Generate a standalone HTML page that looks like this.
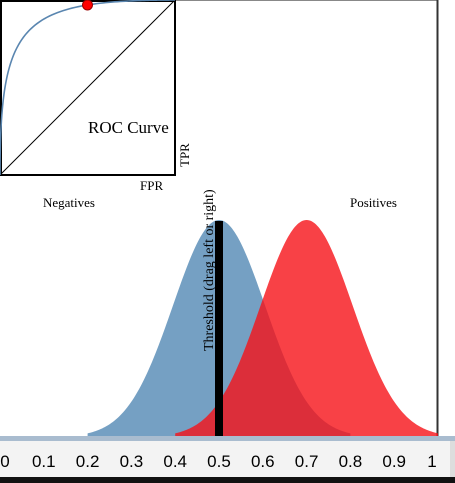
<!DOCTYPE html>
<html><head><meta charset="utf-8"><style>
html,body{margin:0;padding:0;width:455px;height:483px;overflow:hidden;background:#fff}
svg{display:block}
text{font-family:"Liberation Serif",serif}
</style></head><body>
<svg id="chart" width="455" height="483">
<rect x="0" y="0" width="455" height="483" fill="#fff"/>
<line x1="0" y1="0.5" x2="438" y2="0.5" stroke="#888"/>
<line x1="437.5" y1="0" x2="437.5" y2="437" stroke="#333" stroke-width="2"/>
<g id="dist"></g>
<g id="roc"></g>
<rect x="0" y="436" width="455" height="5" fill="#a9bccf"/>
<rect x="0" y="441" width="455" height="36" fill="#f3f3f3"/>
<rect x="450" y="441" width="5" height="36" fill="#ddd"/>
<rect x="0" y="477" width="455" height="6" fill="#111"/>
<g id="ticks"></g>
</svg>
<script>
const ticks=[0,0.1,0.2,0.3,0.4,0.5,0.6,0.7,0.8,0.9,1];
const tickLabels=["0","0.1","0.2","0.3","0.4","0.5","0.6","0.7","0.8","0.9","1"];
const negMean=0.5, posMean=0.7, sigma=0.105;
const negRange=[0.2,0.8], posRange=[0.4,1.0];
const threshold=0.5;
const NS="http://www.w3.org/2000/svg";
const X=v=>v*438, base=437, peakH=217;
const Y=d=>base-d*peakH;
function mk(t,a,p){const e=document.createElementNS(NS,t);for(const k in a)e.setAttribute(k,a[k]);p.appendChild(e);return e;}
function g(x,m){return Math.exp(-((x-m)**2)/(2*sigma*sigma));}
function erf(x){const s=Math.sign(x);x=Math.abs(x);const t=1/(1+0.3275911*x);const y=1-(((((1.061405429*t-1.453152027)*t)+1.421413741)*t-0.284496736)*t+0.254829592)*t*Math.exp(-x*x);return s*y;}
function surv(t,m){return 0.5*(1-erf((t-m)/(sigma*Math.SQRT2)));}
const dist=document.getElementById('dist');
function bell(m,r,fill,op,name){let d=`M${X(r[0])},${base}`;for(let i=0;i<=200;i++){const v=r[0]+(r[1]-r[0])*i/200;d+=` L${X(v).toFixed(2)},${Y(g(v,m)).toFixed(2)}`;}d+=` L${X(r[1])},${base} Z`;
const p=mk('path',{d:d,fill:fill,'fill-opacity':op},dist);

}
bell(negMean,negRange,'#75a0c3',1,'negatives-distribution');
bell(posMean,posRange,'#f61218',0.8,'positives-distribution');
const th=mk('rect',{x:X(threshold)-4,y:Y(1)+1,width:8,height:base-Y(1)-1,fill:'#000'},dist);


const tl=mk('text',{x:0,y:0,'font-size':'14',transform:`translate(${X(threshold)-6},351) rotate(-90)`},dist);
tl.textContent='Threshold (drag left or right)';


const nl=mk('text',{x:43,y:207,'font-size':'13'},dist);nl.textContent='Negatives';


const pl=mk('text',{x:350,y:207,'font-size':'13'},dist);pl.textContent='Positives';


// ROC
const roc=document.getElementById('roc');const S=175;
const RX=f=>f*S, RY=t=>S-t*S;
const box=mk('rect',{x:1,y:1,width:S-1,height:S-1,fill:'none',stroke:'#000','stroke-width':2},roc);


const dg=mk('line',{x1:0,y1:S,x2:S,y2:0,stroke:'#000','stroke-width':1},roc);


let d='';for(let i=0;i<=300;i++){const t=-0.2+1.4*i/300;const f=surv(t,negMean),tp=surv(t,posMean);d+=(i?' L':'M')+RX(f).toFixed(2)+','+RY(tp).toFixed(2);}
const rc=mk('path',{d:d,fill:'none',stroke:'#5a86b0','stroke-width':1.6},roc);


const dot=mk('circle',{cx:RX(surv(threshold,negMean)),cy:RY(surv(threshold,posMean)),r:5,fill:'#f00',stroke:'#900'},roc);


const rt=mk('text',{x:88,y:133,'font-size':'17'},roc);rt.textContent='ROC Curve';


const fx=mk('text',{x:140,y:190,'font-size':'13'},roc);fx.textContent='FPR';


const ty=mk('text',{x:0,y:0,'font-size':'13',transform:'translate(189,167) rotate(-90)'},roc);ty.textContent='TPR';


// ticks
const tg=document.getElementById('ticks');
ticks.forEach((v,i)=>{const t=mk('text',{x:Math.min(Math.max(X(v),5),432),y:467,'font-size':'17','text-anchor':'middle',style:'font-family:"Liberation Sans",sans-serif'},tg);t.textContent=tickLabels[i];

});
</script>
</body></html>
